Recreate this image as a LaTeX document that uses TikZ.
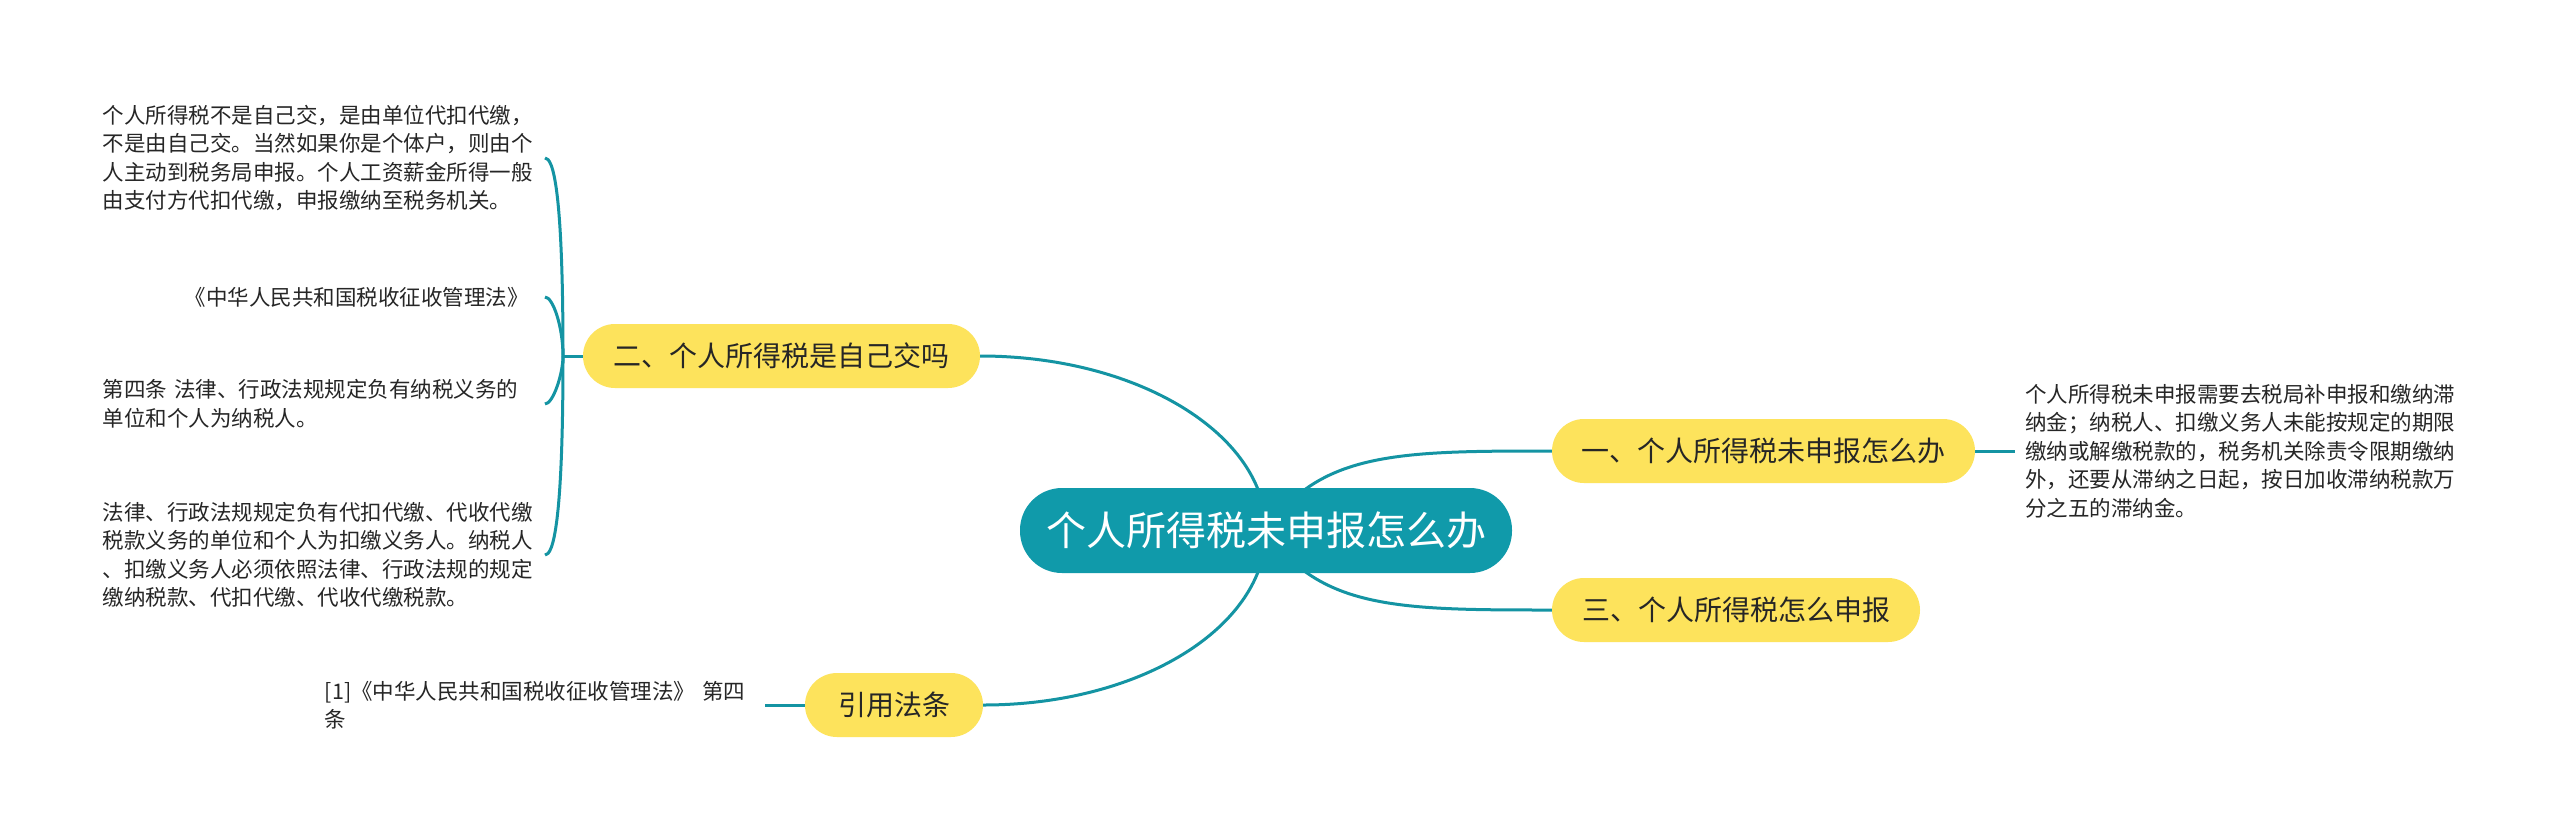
\documentclass[tikz,border=0pt]{standalone}
\usepackage{fontspec}
\setmainfont{Noto Sans CJK SC}
\usetikzlibrary{calc,backgrounds}
\definecolor{rootfill}{RGB}{16,154,170}
\definecolor{linecol}{RGB}{20,148,163}
\definecolor{yel}{RGB}{253,227,92}
\definecolor{txt}{RGB}{38,38,38}
\begin{document}
\begin{tikzpicture}[x=1pt,y=-1pt,
  conn/.style={draw=linecol,line width=3pt},
  root/.style={fill=rootfill,text=white,rounded corners=42pt,minimum height=85pt,inner sep=0pt,font=\fontsize{40}{48}\selectfont},
  topic/.style={fill=yel,text=txt,rounded corners=32pt,minimum height=64pt,inner sep=0pt,font=\fontsize{28}{34}\selectfont},
  leaf/.style={text=txt,text width=432pt,inner xsep=10pt,inner ysep=4pt,align=left,font=\fontsize{21.5}{28.5}\selectfont}]
\useasboundingbox (0,0) rectangle (2560,836);

\node[root,minimum width=492pt] (C) at (1266,530.5) {个人所得税未申报怎么办};
\node[topic,minimum width=397pt] (n2) at (781.5,356) {二、个人所得税是自己交吗};
\node[topic,minimum width=423pt] (n1) at (1763.5,451) {一、个人所得税未申报怎么办};
\node[topic,minimum width=368pt] (n3) at (1736,610) {三、个人所得税怎么申报};
\node[topic,minimum width=178pt] (n4) at (894,705) {引用法条};

\node[leaf,anchor=east] (t1) at (545,158) {个人所得税不是自己交，是由单位代扣代缴，\\不是由自己交。当然如果你是个体户，则由个\\人主动到税务局申报。个人工资薪金所得一般\\由支付方代扣代缴，申报缴纳至税务机关。};
\node[leaf,anchor=east,align=right] (t2) at (545,297) {《中华人民共和国税收征收管理法》\hspace*{6pt}};
\node[leaf,anchor=east] (t3) at (545,404) {第四条 法律、行政法规规定负有纳税义务的\\单位和个人为纳税人。};
\node[leaf,anchor=east] (t4) at (545,555) {法律、行政法规规定负有代扣代缴、代收代缴\\税款义务的单位和个人为扣缴义务人。纳税人\\、扣缴义务人必须依照法律、行政法规的规定\\缴纳税款、代扣代缴、代收代缴税款。};
\node[leaf,anchor=west] (t5) at (n1.east -| 2015,0) {个人所得税未申报需要去税局补申报和缴纳滞\\纳金；纳税人、扣缴义务人未能按规定的期限\\缴纳或解缴税款的，税务机关除责令限期缴纳\\外，还要从滞纳之日起，按日加收滞纳税款万\\分之五的滞纳金。};
\node[leaf,anchor=east,text width=430pt] (t6) at (n4.west -| 765,0) {[1]《中华人民共和国税收征收管理法》 第四\\条};

\coordinate (sp) at (563,356);

\begin{scope}[on background layer]
\fill[white] (0,0) rectangle (2560,836);
\draw[conn] (n2.east) .. controls ($(n2.east)+(158,0)$) and ($(C.center)+(0,-96)$) .. (C.center);
\draw[conn] (n4.east) .. controls ($(n4.east)+(158,0)$) and ($(C.center)+(0,96)$) .. (C.center);
\draw[conn] (C.center) .. controls ($(C.center)+(54,-79)$) and ($(n1.west)+(-153,0)$) .. (n1.west);
\draw[conn] (C.center) .. controls ($(C.center)+(54,79)$) and ($(n3.west)+(-153,0)$) .. (n3.west);
\draw[conn] (n1.east) -- (t5.west);
\draw[conn] (t6.east) -- (n4.west);
\draw[conn] (n2.west) -- (sp);
\draw[conn] (sp) .. controls ($(sp|-t1.east)+(0,30)$) and ($(t1.east)+(8,0)$) .. (t1.east);
\draw[conn] (sp) .. controls ($(sp|-t2.east)+(0,30)$) and ($(t2.east)+(8,0)$) .. (t2.east);
\draw[conn] (sp) .. controls ($(sp|-t3.east)+(0,-30)$) and ($(t3.east)+(8,0)$) .. (t3.east);
\draw[conn] (sp) .. controls ($(sp|-t4.east)+(0,-30)$) and ($(t4.east)+(8,0)$) .. (t4.east);
\end{scope}
\end{tikzpicture}
\end{document}
